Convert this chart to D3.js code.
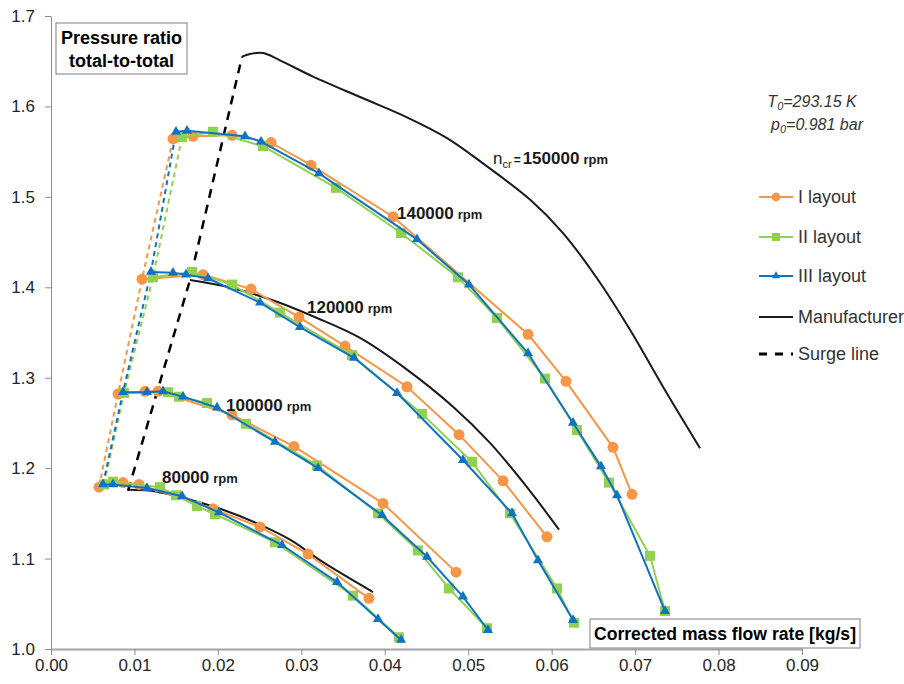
<!DOCTYPE html>
<html>
<head>
<meta charset="utf-8">
<script src="https://cdn.jsdelivr.net/npm/d3@7"></script>
<style>
body { margin:0; background:#fff; }
svg { font-family: "Liberation Sans", Arial, sans-serif; }
</style>
</head>
<body>
<script>
/*--- data ---*/
const xTicks = [0, 0.01, 0.02, 0.03, 0.04, 0.05, 0.06, 0.07, 0.08, 0.09];
const yTicks = [1.0, 1.1, 1.2, 1.3, 1.4, 1.5, 1.6, 1.7];
const speeds = ["80000", "100000", "120000", "140000"];

// I layout
const I_80k  = [[0.00575,1.179],[0.00863,1.184],[0.01055,1.182],[0.01941,1.155],[0.02505,1.135],[0.0308,1.105],[0.0381,1.056]];
const I_100k = [[0.00803,1.282],[0.01127,1.285],[0.01282,1.285],[0.02169,1.259],[0.02912,1.224],[0.03979,1.161],[0.04854,1.085]];
const I_120k = [[0.01091,1.409],[0.01822,1.414],[0.02397,1.398],[0.02972,1.367],[0.03523,1.335],[0.04266,1.290],[0.0489,1.237],[0.05417,1.186],[0.05944,1.124]];
const I_140k = [[0.01462,1.564],[0.01702,1.567],[0.02169,1.568],[0.02637,1.560],[0.03116,1.535],[0.04099,1.478],[0.05717,1.348],[0.06172,1.296],[0.06735,1.223],[0.06963,1.171]];

// II layout
const II_80k  = [[0.00635,1.182],[0.00743,1.185],[0.01306,1.179],[0.01498,1.170],[0.0175,1.158],[0.01965,1.149],[0.02684,1.118],[0.03619,1.059],[0.0417,1.013]];
const II_100k = [[0.00875,1.283],[0.01402,1.284],[0.01534,1.279],[0.0187,1.272],[0.02337,1.249],[0.03188,1.203],[0.03919,1.150],[0.04398,1.109],[0.0477,1.067],[0.05225,1.023]];
const II_120k = [[0.01222,1.411],[0.0169,1.417],[0.02169,1.403],[0.02744,1.372],[0.03607,1.325],[0.04446,1.260],[0.05045,1.207],[0.05501,1.150],[0.06064,1.067],[0.06268,1.029]];
const II_140k = [[0.0157,1.566],[0.01941,1.572],[0.02541,1.556],[0.03416,1.510],[0.04195,1.460],[0.04878,1.411],[0.05345,1.366],[0.0592,1.299],[0.06304,1.242],[0.06687,1.184],[0.07178,1.103],[0.07358,1.042]];

// III layout
const III_80k  = [[0.00623,1.182],[0.00743,1.182],[0.0115,1.178],[0.0157,1.169],[0.02013,1.151],[0.02768,1.115],[0.03428,1.074],[0.03919,1.033],[0.04195,1.010]];
const III_100k = [[0.00863,1.284],[0.0115,1.284],[0.01342,1.285],[0.01582,1.279],[0.0199,1.267],[0.02684,1.229],[0.032,1.200],[0.03967,1.148],[0.04506,1.102],[0.04937,1.058],[0.05237,1.021]];
const III_120k = [[0.01198,1.417],[0.01462,1.416],[0.01618,1.414],[0.01882,1.410],[0.02505,1.383],[0.02984,1.356],[0.03631,1.322],[0.04147,1.283],[0.04937,1.209],[0.05525,1.150],[0.05836,1.098],[0.06256,1.032]];
const III_140k = [[0.01498,1.572],[0.0163,1.573],[0.02325,1.567],[0.02517,1.561],[0.03212,1.526],[0.04386,1.453],[0.05009,1.403],[0.05717,1.327],[0.06256,1.250],[0.06591,1.202],[0.06783,1.170],[0.07358,1.042]];

// manufacturer map + surge line
const man_80k  = [[0.00923,1.176],[0.0127,1.174],[0.01666,1.165],[0.02061,1.154],[0.02469,1.139],[0.02864,1.121],[0.0326,1.096],[0.03859,1.063]];
const man_120k = [[0.01666,1.408],[0.02181,1.399],[0.02708,1.384],[0.03188,1.366],[0.03703,1.344],[0.04266,1.309],[0.04818,1.268],[0.05261,1.228],[0.05704,1.179],[0.06088,1.132]];
const man_150k = [[0.02289,1.655],[0.02385,1.658],[0.02541,1.659],[0.02744,1.651],[0.0314,1.633],[0.03739,1.609],[0.04266,1.588],[0.04746,1.565],[0.05177,1.537],[0.0574,1.497],[0.06136,1.460],[0.06543,1.410],[0.06939,1.353],[0.07334,1.290],[0.07778,1.222]];
const surge = [[0.00923,1.175],[0.01666,1.408],[0.02289,1.655]];

const layouts = [
  {name: "I layout",   color: "#F79646", marker: "circle",   lines: [I_80k, I_100k, I_120k, I_140k]},
  {name: "II layout",  color: "#92D050", marker: "square",   lines: [II_80k, II_100k, II_120k, II_140k]},
  {name: "III layout", color: "#0F73C3", marker: "triangle", lines: [III_80k, III_100k, III_120k, III_140k]}
];

/*--- scales ---*/
let X = d3.scaleLinear().domain([0, 0.09]).range([51, 802]);
let Y = d3.scaleLinear().domain([1.0, 1.7]).range([649, 16]);

let svg = d3.select("body").append("svg")
    .attr("width", 904).attr("height", 684);

let linea = d3.line().x(d => X(d[0])).y(d => Y(d[1]));
let curva = d3.line().x(d => X(d[0])).y(d => Y(d[1])).curve(d3.curveCatmullRom);

/*--- axes ---*/
let yAx = svg.append("g")
    .attr("transform", "translate(51,0)")
    .call(d3.axisLeft(Y).tickValues(yTicks).tickFormat(d3.format(".1f")).tickSize(6).tickSizeOuter(0).tickPadding(10));
let xAx = svg.append("g")
    .attr("transform", "translate(0,649)")
    .call(d3.axisBottom(X).tickValues(xTicks).tickFormat(d3.format(".2f")).tickSize(6).tickSizeOuter(0).tickPadding(4));

[yAx, xAx].forEach(function(a) {
    a.selectAll("text").attr("font-size", 17).attr("fill", "#262626").attr("font-family", "Liberation Sans, Arial");
    a.selectAll("line").attr("stroke", "#8c8c8c");
    a.select(".domain").attr("stroke", "#8c8c8c");
});
xAx.select(".domain").attr("stroke", "#a6a6a6").attr("stroke-width", 2);

/*--- surge line of each layout (dashed, coloured) ---*/
layouts.forEach(function(L) {
    svg.append("path")
        .datum(L.lines.map(s => s[0]))
        .attr("fill", "none")
        .attr("stroke", L.color)
        .attr("stroke-width", 2)
        .attr("stroke-dasharray", "5,4")
        .attr("d", linea);
});

/*--- manufacturer curves ---*/
[man_80k, man_120k, man_150k].forEach(function(m) {
    svg.append("path").datum(m)
        .attr("fill", "none").attr("stroke", "#1a1a1a").attr("stroke-width", 2)
        .attr("d", curva);
});
svg.append("path").datum(surge)
    .attr("fill", "none").attr("stroke", "#000").attr("stroke-width", 2.5)
    .attr("stroke-dasharray", "9,7")
    .attr("d", linea);

/*--- markers ---*/
function marker(sel, type, color, sc) {
    sc = sc || 1;
    if (type == "circle") {
        sel.append("circle").attr("r", 5.5 * sc).attr("fill", color);
    } else if (type == "square") {
        sel.append("rect").attr("x", -5 * sc).attr("y", -5 * sc)
            .attr("width", 10 * sc).attr("height", 10 * sc).attr("fill", color);
    } else {
        sel.append("path").attr("d", d3.symbol(d3.symbolTriangle, 44 * sc * sc)()).attr("fill", color);
    }
}

layouts.forEach(function(L) {
    L.lines.forEach(function(s) {
        svg.append("path").datum(s)
            .attr("fill", "none").attr("stroke", L.color).attr("stroke-width", 2)
            .attr("d", linea);
        s.forEach(function(d) {
            let g = svg.append("g").attr("transform", "translate(" + X(d[0]) + "," + Y(d[1]) + ")");
            marker(g, L.marker, L.color);
        });
    });
});

/*--- speed labels ---*/
let speedPos = [[162, 483], [226, 411], [307, 313], [397, 219]];
speeds.forEach(function(s, i) {
    let t = svg.append("text").attr("x", speedPos[i][0]).attr("y", speedPos[i][1])
        .attr("font-weight", "bold").attr("fill", "#1a1a1a");
    t.append("tspan").attr("font-size", 17).text(s);
    t.append("tspan").attr("font-size", 13).attr("dx", 4).text("rpm");
});
let ncr = svg.append("text").attr("x", 493).attr("y", 164).attr("font-weight", "bold").attr("fill", "#1a1a1a");
ncr.append("tspan").attr("font-size", 17).attr("font-weight", "normal").text("n");
ncr.append("tspan").attr("font-size", 11).attr("dy", 4).attr("font-weight", "normal").text("cr");
ncr.append("tspan").attr("font-size", 12).attr("dy", -4).attr("dx", 2).text("=");
ncr.append("tspan").attr("font-size", 17).attr("dx", 2).text("150000");
ncr.append("tspan").attr("font-size", 13).attr("dx", 4).text("rpm");

/*--- boxed titles ---*/
svg.append("rect").attr("x", 56).attr("y", 23).attr("width", 131).attr("height", 51)
    .attr("fill", "#fff").attr("stroke", "#7f7f7f").attr("stroke-width", 1);
svg.append("text").attr("x", 121.5).attr("y", 44).attr("text-anchor", "middle")
    .attr("font-size", 18).attr("font-weight", "bold").text("Pressure ratio");
svg.append("text").attr("x", 121.5).attr("y", 67).attr("text-anchor", "middle")
    .attr("font-size", 18).attr("font-weight", "bold").text("total-to-total");

let xt = svg.append("text").attr("x", 725).attr("y", 640).attr("text-anchor", "middle")
    .attr("font-size", 17.6).attr("font-weight", "bold").text("Corrected mass flow rate [kg/s]");
let bb = xt.node().getBBox();
svg.insert("rect", function() { return xt.node(); })
    .attr("x", bb.x - 4).attr("y", 619).attr("width", bb.width + 8).attr("height", 29)
    .attr("fill", "#fff").attr("stroke", "#7f7f7f");

/*--- conditions ---*/
let t0 = svg.append("text").attr("x", 812).attr("y", 107).attr("text-anchor", "middle")
    .attr("font-size", 16).attr("font-style", "italic").attr("fill", "#333");
t0.append("tspan").text("T");
t0.append("tspan").attr("font-size", 11).attr("dy", 3).text("0");
t0.append("tspan").attr("dy", -3).text("=293.15 K");
let p0 = svg.append("text").attr("x", 817).attr("y", 130).attr("text-anchor", "middle")
    .attr("font-size", 16).attr("font-style", "italic").attr("fill", "#333");
p0.append("tspan").text("p");
p0.append("tspan").attr("font-size", 11).attr("dy", 3).text("0");
p0.append("tspan").attr("dy", -3).text("=0.981 bar");

/*--- legend ---*/
let legY = [197, 237, 276, 317, 354];
layouts.forEach(function(L, i) {
    svg.append("line").attr("x1", 759).attr("x2", 793).attr("y1", legY[i]).attr("y2", legY[i])
        .attr("stroke", L.color).attr("stroke-width", 2);
    let g = svg.append("g").attr("transform", "translate(776," + legY[i] + ")");
    marker(g, L.marker, L.color, 0.8);
});
svg.append("line").attr("x1", 759).attr("x2", 793).attr("y1", legY[3]).attr("y2", legY[3])
    .attr("stroke", "#1a1a1a").attr("stroke-width", 2);
svg.append("line").attr("x1", 759).attr("x2", 793).attr("y1", legY[4]).attr("y2", legY[4])
    .attr("stroke", "#000").attr("stroke-width", 3).attr("stroke-dasharray", "8,8");
let legNames = layouts.map(L => L.name).concat(["Manufacturer", "Surge line"]);
legNames.forEach(function(n, i) {
    svg.append("text").attr("x", 798).attr("y", legY[i] + 6)
        .attr("font-size", 18).attr("fill", "#333").text(n);
});
</script>
</body>
</html>
